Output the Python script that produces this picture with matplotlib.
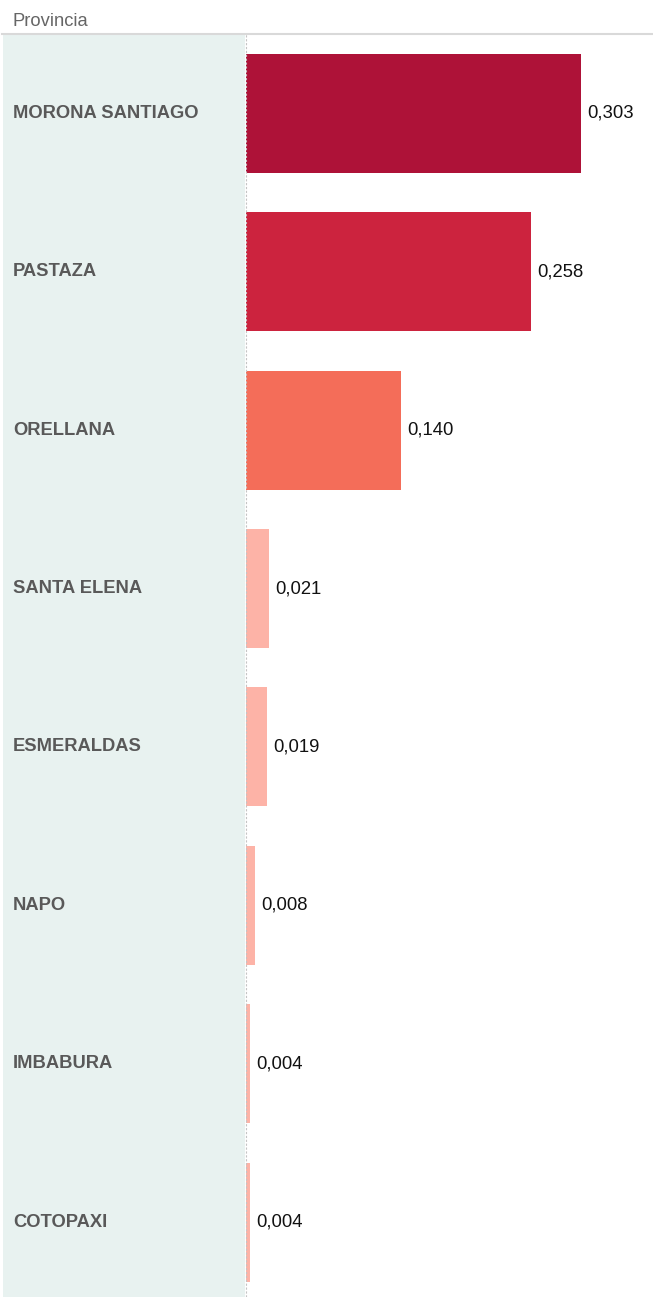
import matplotlib.pyplot as plt
import numpy as np

provincias = ["MORONA SANTIAGO", "PASTAZA", "ORELLANA", "SANTA ELENA",
              "ESMERALDAS", "NAPO", "IMBABURA", "COTOPAXI"]
valores = [0.303, 0.258, 0.140, 0.021, 0.019, 0.008, 0.004, 0.004]
colores = ["#ae1238", "#cc233e", "#f46d59", "#fdb3a7",
           "#fdb3a7", "#fdb3a7", "#fdb3a7", "#fdb3a7"]
etiquetas = [f"{v:.3f}".replace(".", ",") for v in valores]

plt.rcParams['font.family'] = ['Liberation Sans', 'DejaVu Sans']

W, H = 653, 1297
fig = plt.figure(figsize=(W / 100, H / 100), dpi=100)

top = 34
pitch = 158.43
n_vis = (H - top) / pitch
ylim = (-0.5 + n_vis, -0.5)

# panel izquierdo con nombres
axl = fig.add_axes([3 / W, 0, (245 - 3) / W, (H - top) / H])
axl.set_facecolor("#e8f2f0")
axl.set_xlim(0, 1)
axl.set_ylim(*ylim)
axl.set_xticks([])
axl.set_yticks([])
for s in axl.spines.values():
    s.set_visible(False)
y = np.arange(len(provincias))
for i, p in enumerate(provincias):
    axl.text(10 / 242, i, p, ha="left", va="center", fontsize=13.2,
             fontweight="bold", color="#595959")

# barras
ax = fig.add_axes([246 / W, 0, (W - 246) / W, (H - top) / H])
ax.barh(y, valores, height=119 / pitch, color=colores, left=0)
ax.set_xlim(0, (W - 246) / 1105.6)
ax.set_ylim(*ylim)
ax.set_xticks([])
ax.set_yticks([])
for s in ax.spines.values():
    s.set_visible(False)
for i, (v, t) in enumerate(zip(valores, etiquetas)):
    ax.annotate(t, (v, i), xytext=(4.3, 0), textcoords="offset points",
                ha="left", va="center", fontsize=13.3, color="#111111")

# linea punteada separadora
fig.add_artist(plt.Line2D([245.5 / W, 245.5 / W], [0, (H - top) / H],
                          color="#c4c4c4", lw=0.8, ls=(0, (2, 1.5))))
# linea de cabecera
fig.add_artist(plt.Line2D([2 / W, 1], [(H - 33.5) / H, (H - 33.5) / H],
                          color="#d9d9d9", lw=1.5))
fig.text(13 / W, (H - 22) / H, "Provincia", ha="left", va="center",
         fontsize=13.2, color="#666666")

fig.savefig("out.png", dpi=100)
